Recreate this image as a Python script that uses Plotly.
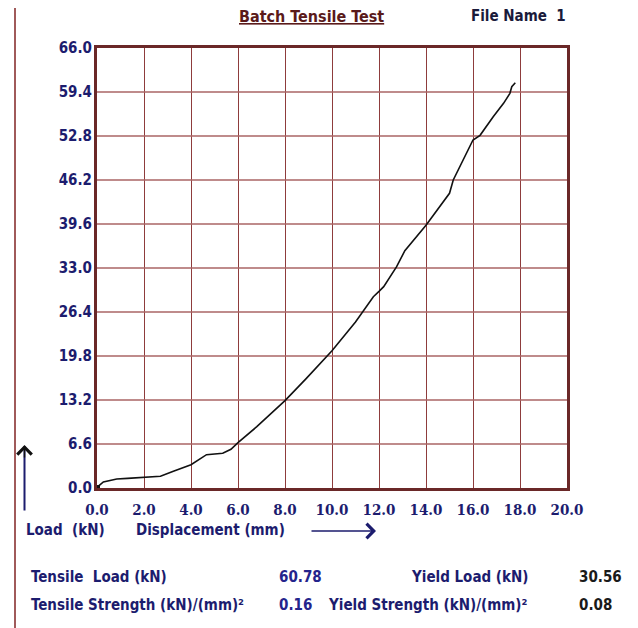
import plotly.graph_objects as go

# ---- data ----
displacement = [0, 0.1, 0.27, 0.55, 0.84, 1.3, 2.0, 2.7, 3.25, 4.0, 4.66, 5.0, 5.35, 5.7, 6.0,
                6.8, 8.0, 8.9, 10.0, 11.0, 11.76, 12.0, 12.2, 12.75, 13.1, 14.0, 15.0, 15.16,
                15.3, 16.0, 16.3, 16.86, 17.3, 17.57, 17.65, 17.8]
load = [0, 0.4, 0.9, 1.15, 1.35, 1.45, 1.55, 1.75, 2.5, 3.5, 5.0, 5.1, 5.2, 5.8, 6.8,
        9.2, 13.1, 16.4, 20.6, 24.9, 28.7, 29.5, 30.2, 33.2, 35.6, 39.4, 44.2, 46.2,
        47.2, 52.2, 52.9, 55.7, 57.7, 59.2, 60.2, 60.78]

x_ticks = [0, 2, 4, 6, 8, 10, 12, 14, 16, 18, 20]
y_ticks = [0, 6.6, 13.2, 19.8, 26.4, 33.0, 39.6, 46.2, 52.8, 59.4, 66.0]

title_text = "Batch Tensile Test"
file_name = "File Name  1"
results_labels = ["Tensile  Load (kN)", "Tensile Strength (kN)/(mm)²",
                  "Yield Load (kN)", "Yield Strength (kN)/(mm)²"]
results_values = ["60.78", "0.16", "30.56", "0.08"]

# ---- layout geometry (screen pixels; page has an 8px body margin) ----
OFF = 8
W, H = 638 - OFF, 628 - OFF
L, R, T, B = 97, 567, 48, 488          # plot box on screen
NAVY = "#1c1c6e"
SANS = "Liberation Sans Narrow, DejaVu Sans Condensed, Liberation Sans, sans-serif"
SERIF = "DejaVu Serif Condensed, Liberation Serif, serif"


def px(x):
    return (x - L) / (R - L)


def py(y):
    return (B - y) / (B - T)


fig = go.Figure()
fig.add_trace(go.Scatter(x=displacement, y=load, mode="lines",
                         line=dict(color="#111111", width=1.6), hoverinfo="skip",
                         showlegend=False))
# start point blob
fig.add_trace(go.Scatter(x=displacement[:1], y=load[:1], mode="markers", cliponaxis=False,
                         marker=dict(symbol="square", size=6, color="#111111"),
                         hoverinfo="skip", showlegend=False))

fig.update_layout(
    width=W, height=H, autosize=False,
    margin=dict(l=L - OFF, r=W - (R - OFF), t=T - OFF, b=H - (B - OFF), pad=0),
    paper_bgcolor="white", plot_bgcolor="white",
    xaxis=dict(range=[0, 20], tickvals=x_ticks, ticktext=[f"{v:.1f}" for v in x_ticks],
               showgrid=True, gridcolor="#8e3c3c", gridwidth=1,
               showline=True, mirror=True, linecolor="#6a2828", linewidth=3,
               zeroline=False, ticks="", ticklabelstandoff=6,
               tickfont=dict(family=SERIF, size=15, color=NAVY, weight="bold")),
    yaxis=dict(range=[0, 66], tickvals=y_ticks, ticktext=[f"{v:.1f}" for v in y_ticks],
               showgrid=True, gridcolor="rgba(170,100,100,0.75)", gridwidth=2,
               showline=True, mirror=True, linecolor="#6a2828", linewidth=3,
               zeroline=False, ticks="", ticklabelstandoff=-1,
               tickfont=dict(family=SANS, size=15, color=NAVY, weight="bold")),
)

# left decorative vertical line
fig.add_shape(type="line", xref="paper", yref="paper", x0=px(15), x1=px(15),
              y0=py(0), y1=py(640), line=dict(color="#a05a5a", width=2))

ann = []
ann.append(dict(text=f"<u>{title_text}</u>", x=px(311), y=py(17), xanchor="center",
                yanchor="middle", font=dict(family=SANS, size=16, color="#5a1a1a", weight="bold")))
ann.append(dict(text=file_name, x=px(518), y=py(16), xanchor="center", yanchor="middle",
                font=dict(family=SANS, size=15, color="#1a1a3a", weight="bold")))
ann.append(dict(text="Load  (kN)", x=px(24), y=py(530), xanchor="left", yanchor="middle",
                font=dict(family=SANS, size=15, color=NAVY, weight="bold")))
ann.append(dict(text="Displacement (mm)", x=px(134), y=py(530), xanchor="left", yanchor="middle",
                font=dict(family=SANS, size=15, color=NAVY, weight="bold")))

rows_y = [577, 605]
for i in range(2):
    ann.append(dict(text=results_labels[i], x=px(29), y=py(rows_y[i]), xanchor="left",
                    yanchor="middle", font=dict(family=SANS, size=15, color=NAVY, weight="bold")))
    ann.append(dict(text=results_values[i], x=px(277), y=py(rows_y[i]), xanchor="left",
                    yanchor="middle", font=dict(family=SANS, size=15, color="#24248c", weight="bold")))
    ann.append(dict(text=results_labels[2 + i], x=px(530), y=py(rows_y[i]), xanchor="right",
                    yanchor="middle", font=dict(family=SANS, size=15, color=NAVY, weight="bold")))
    ann.append(dict(text=results_values[2 + i], x=px(577), y=py(rows_y[i]), xanchor="left",
                    yanchor="middle", font=dict(family=SANS, size=15, color="#1a1a1a", weight="bold")))

for a in ann:
    a.update(xref="paper", yref="paper", showarrow=False)
    fig.add_annotation(**a)

# arrows: shaft + chevron heads
fig.add_annotation(xref="paper", yref="paper", x=px(24.5), y=py(446), ax=0, ay=66,
                   axref="pixel", ayref="pixel", text="", showarrow=True,
                   arrowhead=0, arrowwidth=2, arrowcolor=NAVY)
fig.add_annotation(xref="paper", yref="paper", x=px(24.5), y=py(445), ax=0, ay=14,
                   axref="pixel", ayref="pixel", text="", showarrow=True,
                   arrowhead=4, arrowsize=2, arrowwidth=1.4, arrowcolor="#111111")
fig.add_annotation(xref="paper", yref="paper", x=px(376), y=py(531), ax=-66, ay=0,
                   axref="pixel", ayref="pixel", text="", showarrow=True,
                   arrowhead=4, arrowsize=2, arrowwidth=1.4, arrowcolor=NAVY)

fig.write_html("out.html")
